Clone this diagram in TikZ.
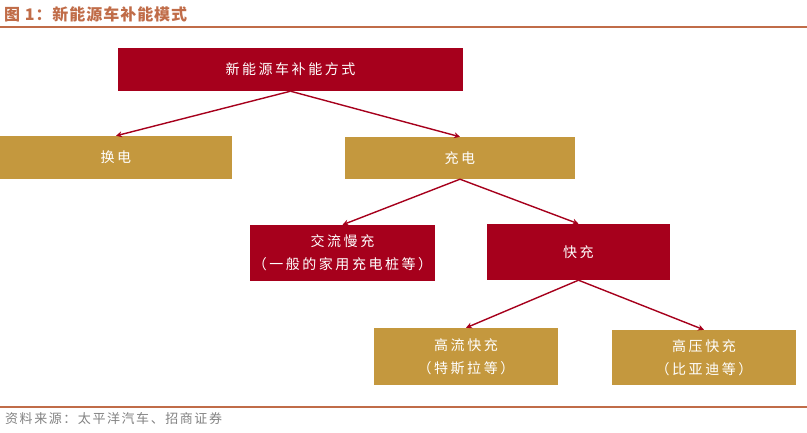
\documentclass[tikz,border=0pt]{standalone}
\usepackage{fontspec}
\setmainfont{Noto Sans CJK SC}
\newfontfamily\cjk[LetterSpace=18]{Noto Sans CJK SC}
\newfontfamily\cjkf[LetterSpace=12]{Noto Sans CJK SC}
\newfontfamily\cjkt[LetterSpace=6]{Noto Sans CJK SC}
\usetikzlibrary{arrows.meta}
\definecolor{boxred}{RGB}{166,0,28}
\definecolor{boxgold}{RGB}{196,152,62}
\definecolor{titlec}{RGB}{192,108,72}
\definecolor{footc}{RGB}{130,130,130}
\tikzset{
  redbox/.style={fill=boxred, draw=none, inner sep=0pt, text=white, font=\cjk\fontsize{14}{23}\selectfont, align=center},
  goldbox/.style={fill=boxgold, draw=none, inner sep=0pt, text=white, font=\cjk\fontsize{14}{23}\selectfont, align=center},
  conn/.style={draw=boxred, line width=1.4pt, -{Stealth[length=6pt,width=6pt]}},
  rule/.style={draw=titlec, line width=2pt}
}
\begin{document}
\begin{tikzpicture}[x=1pt,y=-1pt]
\useasboundingbox (0,0) rectangle (807,432);
% title
\node[anchor=west, text=titlec, font=\cjkt\bfseries\fontsize{16}{18}\selectfont, inner sep=0pt] (title) at (4,14) {图 1：新能源车补能模式};
\draw[rule] (0,27) -- (807,27);
\draw[rule] (0,407) -- (807,407);
\node[anchor=west, text=footc, font=\cjkf\fontsize{13}{15}\selectfont, inner sep=0pt] (src) at (5,419) {资料来源：太平洋汽车、招商证券};
% boxes
\node[redbox, minimum width=345pt, minimum height=43pt] (root) at (290.5,69.5) {新能源车补能方式};
\node[goldbox, minimum width=232pt, minimum height=43pt] (swap) at (116,157.5) {换电};
\node[goldbox, minimum width=230pt, minimum height=42pt] (charge) at (460,158) {充电};
\node[redbox, minimum width=185pt, minimum height=56pt] (slow) at (342.5,253) {交流慢充\\（一般的家用充电桩等）};
\node[redbox, minimum width=183pt, minimum height=56pt] (fast) at (578.5,252) {快充};
\node[goldbox, minimum width=184pt, minimum height=57pt] (hicur) at (466,356.5) {高流快充\\（特斯拉等）};
\node[goldbox, minimum width=184pt, minimum height=55pt] (hivol) at (704,357.5) {高压快充\\（比亚迪等）};
% connectors
\draw[conn] (root.south) -- (swap.north);
\draw[conn] (root.south) -- (charge.north);
\draw[conn] (charge.south) -- (slow.north);
\draw[conn] (charge.south) -- (fast.north);
\draw[conn] (fast.south) -- (hicur.north);
\draw[conn] (fast.south) -- (hivol.north);
\end{tikzpicture}
\end{document}
